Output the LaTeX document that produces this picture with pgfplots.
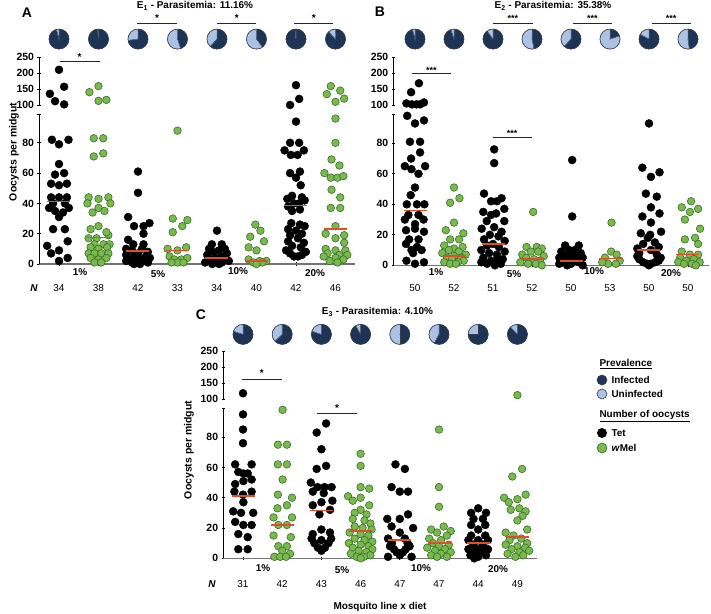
\documentclass[border=0pt]{standalone}
\usepackage{fontspec}
\setmainfont{Liberation Sans}
\usepackage{pgfplots}
\pgfplotsset{compat=1.18}
\usepackage{pgfplotstable}
\definecolor{pieD}{RGB}{30,52,85}
\definecolor{pieL}{RGB}{172,194,228}
\definecolor{pieE}{RGB}{55,60,75}
\definecolor{gfill}{RGB}{120,186,78}
\definecolor{gedge}{RGB}{60,110,40}
\definecolor{medred}{RGB}{222,78,40}
\tikzset{sigbar/.style={line width=1bp, black!85}}

\pgfplotsset{
 panel/.style={scale only axis, xmin=-0.5, xmax=7.5, clip=false,
   axis line style={-, line width=0.9bp}, tick style={line width=0.9bp, black},
   tick align=outside, major tick length=3.5bp,
   tick label style={font=\fontsize{10.5}{12}\selectfont\bfseries},
   /pgf/number format/assume math mode=true},
 low/.style={panel, height=150bp, ymin=0, ymax=99, axis x line=bottom, axis y line=left,
   axis line style={-}, ytick={0,20,40,60,80}, extra y ticks={99}, extra y tick labels={},
   xtick={0,...,7}, xticklabels={}, x axis line style={black!55, line width=1.2bp}},
 up/.style={panel, height=48bp, ymin=100, ymax=250, axis x line=none, axis y line=left,
   axis line style={-}, ytick={100,150,200,250}},
 tet/.style={only marks, mark=*, mark size=4bp, black},
 wm/.style={only marks, mark=*, mark size=3.8bp, mark options={fill=gfill, draw=gedge, line width=0.6bp}},
 lo/.style={restrict y to domain=0:99.4},
 hi/.style={restrict y to domain=99.5:400},
 med/.style={only marks, mark=-, mark size=11.5bp, mark options={draw=medred, line width=1.6bp}},
 pie/.style={only marks, scatter, mark=*, mark size=0.1bp, color=pieD,
   point meta=\thisrow{u},
   visualization depends on={value \thisrow{u}\as\pu},
   scatter/@pre marker code/.code={%
     \pgfmathsetmacro\pa{90+360*\pu}%
     \fill[pieD] (0bp,0bp) circle[radius=10bp];
     \fill[pieL] (0bp,0bp) -- (0bp,10bp) arc[start angle=90, end angle=\pa, radius=10bp] -- cycle;
     \draw[pieE, line width=0.45bp] (0bp,10bp) -- (0bp,0bp) -- ([shift={(\pa:10bp)}]0bp,0bp);
     \draw[pieE, line width=0.6bp] (0bp,0bp) circle[radius=10bp];
   },
   scatter/@post marker code/.code={}},
}

% ---------------- Panel A data
\pgfplotstableread[row sep=\\]{c o y\\
0 0 210\\ 0 0.13 157\\ 0 -0.23 135\\ 0 -0.1 112\\ 0 0.13 102\\
0 -0.18 82\\ 0 0 79\\ 0 0.24 82\\ 0 0 66\\ 0 -0.1 59\\ 0 0.13 60\\
0 -0.2 53\\ 0 0 52\\ 0 0.2 53\\ 0 -0.2 44\\ 0 0 44\\ 0 0.2 44\\
0 -0.15 40\\ 0 0.15 40\\ 0 -0.25 37\\ 0 0.25 37\\ 0 -0.1 35\\ 0 0.1 34\\ 0 0 31\\
0 -0.15 23\\ 0 0.15 23\\ 0 -0.3 12\\ 0 0.22 15\\ 0 0 9\\ 0 -0.2 7\\ 0 0.22 4\\ 0 0 2\\
2 0 61\\ 2 0 47\\ 2 -0.25 31\\ 2 -0.1 25\\ 2 0.14 25\\ 2 0.29 27\\ 2 0.14 20\\ 2 -0.25 16\\ 2 -0.12 13\\ 2 0.14 13\\
2 -0.3 10\\ 2 0.1 10\\ 2 -0.15 9\\ 2 0.25 8\\ 2 0 7\\ 2 -0.3 6\\ 2 0.2 5\\ 2 -0.1 5\\ 2 0.3 4\\ 2 -0.2 3\\
2 0.1 3\\ 2 0 2\\ 2 -0.3 2\\ 2 0.25 1\\ 2 -0.15 1\\ 2 0.05 0\\ 2 -0.1 0\\ 2 0.2 2\\
4 0 22\\ 4 -0.13 13\\ 4 0.12 13\\ 4 -0.2 10\\ 4 0.2 10\\ 4 0.05 9\\ 4 -0.1 8\\ 4 0.25 7\\ 4 -0.25 6\\ 4 0.1 5\\
4 -0.05 4\\ 4 0.2 3\\ 4 -0.2 3\\ 4 0 2\\ 4 0.3 2\\ 4 -0.3 1\\ 4 0.12 1\\ 4 -0.12 0\\ 4 0.05 0\\
6 0 162\\ 6 0.08 119\\ 6 -0.15 100\\
6 0 94\\ 6 -0.15 80\\ 6 0.08 80\\ 6 -0.29 75\\ 6 0.2 75\\ 6 -0.13 72\\ 6 0.04 72\\
6 -0.15 60\\ 6 0.1 61\\ 6 0 57\\ 6 0.12 52\\
6 -0.1 45\\ 6 0.15 44\\ 6 -0.22 43\\ 6 0.22 42\\ 6 -0.05 40\\ 6 0.08 40\\ 6 -0.2 38\\ 6 0.1 36\\ 6 -0.1 35\\
6 -0.12 27\\ 6 0.1 26\\ 6 0.22 25\\ 6 -0.2 23\\ 6 0 22\\ 6 0.15 20\\ 6 -0.15 19\\ 6 0.05 17\\
6 -0.2 15\\ 6 0.2 14\\ 6 -0.1 12\\ 6 0.12 11\\ 6 -0.25 9\\ 6 0.25 8\\ 6 -0.15 7\\ 6 0.15 6\\ 6 -0.05 5\\ 6 0.05 5\\
}\ATet
\pgfplotstableread[row sep=\\]{c o y\\
1 -0.23 140\\ 1 0 159\\ 1 0 113\\ 1 0.2 116\\
1 -0.12 83\\ 1 0.12 83\\ 1 -0.12 71\\ 1 0.12 73\\
1 -0.25 44\\ 1 0 43\\ 1 0.25 44\\ 1 -0.28 40\\ 1 0.3 40\\ 1 0 37\\ 1 -0.15 34\\ 1 0.15 35\\
1 0 25\\ 1 -0.2 23\\ 1 0.25 19\\ 1 -0.25 17\\ 1 -0.05 17\\ 1 0.2 21\\
1 -0.1 13\\ 1 0.13 13\\ 1 0.28 13\\ 1 -0.2 11\\ 1 0 10\\ 1 0.22 11\\
1 -0.25 7\\ 1 -0.1 7\\ 1 0.07 7\\ 1 0.25 7\\ 1 -0.2 4\\ 1 0 3\\ 1 0.2 4\\ 1 -0.1 1\\ 1 0.07 1\\
3 0 88\\ 3 -0.12 30\\ 3 0.25 29\\ 3 0.12 25\\ 3 -0.12 21\\ 3 -0.25 10\\ 3 0 9\\ 3 0.22 11\\ 3 -0.2 5\\
3 -0.08 3\\ 3 0.1 3\\ 3 0.25 4\\ 3 0 1\\ 3 -0.15 1\\ 3 0.15 1\\
5 -0.03 26\\ 5 0.1 22\\ 5 -0.16 18\\ 5 0.19 15\\ 5 -0.2 11\\ 5 0 9\\ 5 -0.2 3\\ 5 0.25 2\\ 5 0.08 2\\ 5 -0.08 1\\ 5 0.15 1\\ 5 0 0\\
7 -0.12 159\\ 7 0.12 145\\ 7 -0.22 134\\ 7 0.22 120\\ 7 0 110\\
7 0 96\\ 7 0 80\\ 7 -0.1 69\\ 7 0.1 65\\ 7 -0.28 60\\ 7 -0.12 57\\ 7 0.05 57\\ 7 0.2 58\\
7 -0.1 49\\ 7 0.12 44\\ 7 -0.12 37\\ 7 0.12 37\\ 7 0 25\\ 7 -0.25 20\\ 7 0 17\\ 7 0.22 19\\ 7 0.22 14\\
7 -0.25 10\\ 7 0 9\\ 7 0.25 9\\ 7 -0.2 7\\ 7 0.1 6\\ 7 0.3 6\\ 7 -0.3 5\\ 7 0 4\\ 7 0.2 3\\ 7 -0.15 2\\ 7 0.05 1\\
}\AWm
% ---------------- Panel B data
\pgfplotstableread[row sep=\\]{c o y\\
0 0.1 168\\ 0 -0.1 140\\ 0 -0.22 105\\ 0 -0.08 102\\ 0 0.04 102\\ 0 0.13 102\\ 0 0.23 108\\
0 -0.2 98\\ 0 0.23 95\\ 0 0 93\\ 0 -0.13 81\\ 0 0.13 81\\ 0 -0.1 70\\ 0 0.13 74\\ 0 -0.26 65\\ 0 0.26 65\\
0 -0.09 63\\ 0 0.09 60\\ 0 0 51\\ 0 -0.11 46\\ 0 -0.21 40\\ 0 0.05 40\\ 0 0.24 40\\ 0 -0.17 33\\ 0 0.09 33\\
0 -0.26 30\\ 0 0.22 30\\ 0 0 27\\ 0 -0.23 23\\ 0 0 24\\ 0 0.23 22\\ 0 -0.15 17\\ 0 0.09 17\\ 0 -0.23 14\\
0 0.05 12\\ 0 -0.09 10\\ 0 0.17 10\\ 0 -0.05 8\\ 0 -0.22 3\\ 0 0.23 2\\ 0 0 1\\
2 0.03 76\\ 2 0.03 67\\ 2 -0.23 47\\ 2 0.22 44\\ 2 -0.05 42\\ 2 0.1 42\\ 2 0.29 37\\ 2 -0.25 35\\ 2 0.08 34\\
2 -0.05 33\\ 2 -0.16 29\\ 2 0.29 29\\ 2 -0.29 24\\ 2 0.03 25\\ 2 0.22 22\\ 2 -0.08 20\\ 2 0.14 19\\ 2 -0.23 17\\
2 0.3 16\\ 2 0 14\\ 2 -0.15 13\\ 2 0.15 12\\ 2 -0.3 10\\ 2 0.3 9\\ 2 -0.1 8\\ 2 0.1 7\\ 2 -0.25 5\\ 2 0.25 4\\
2 -0.05 3\\ 2 0.1 3\\ 2 -0.3 2\\ 2 0.2 1\\ 2 -0.15 1\\ 2 0.05 0\\
4 0.03 69\\ 4 0.03 32\\ 4 -0.15 13\\ 4 0.2 13\\ 4 -0.05 10\\ 4 0.1 10\\ 4 -0.25 9\\ 4 0.25 8\\ 4 0 7\\
4 -0.15 6\\ 4 0.15 6\\ 4 -0.3 5\\ 4 0.3 5\\ 4 -0.05 4\\ 4 0.1 3\\ 4 -0.2 2\\ 4 0.2 2\\ 4 0 1\\ 4 -0.3 1\\ 4 0.3 0\\ 4 -0.1 0\\
6 0 93\\ 6 -0.17 64\\ 6 0.05 58\\ 6 0.27 61\\ 6 -0.08 47\\ 6 0.2 45\\ 6 0.05 38\\ 6 -0.17 32\\ 6 0.27 34\\
6 0.05 28\\ 6 -0.21 21\\ 6 0.03 20\\ 6 0.31 22\\ 6 -0.03 18\\ 6 0.15 15\\ 6 -0.15 14\\ 6 0.25 12\\ 6 -0.3 11\\
6 0.05 10\\ 6 -0.25 8\\ 6 0.2 7\\ 6 -0.3 6\\ 6 0.3 5\\ 6 -0.25 4\\ 6 0.25 3\\ 6 -0.15 2\\ 6 0.15 2\\ 6 -0.05 1\\ 6 0.05 1\\ 6 0 0\\
}\BTet
\pgfplotstableread[row sep=\\]{c o y\\
1 0 51\\ 1 -0.1 41\\ 1 0.14 44\\ 1 0 28\\ 1 -0.21 23\\ 1 0.24 21\\ 1 -0.1 17\\ 1 0.13 17\\ 1 -0.25 13\\
1 0.22 12\\ 1 0 11\\ 1 -0.13 10\\ 1 0.12 9\\ 1 -0.3 8\\ 1 0.3 7\\ 1 0 6\\ 1 -0.18 5\\ 1 0.18 5\\ 1 -0.05 4\\
1 0.25 3\\ 1 -0.25 2\\ 1 0.1 2\\ 1 -0.1 1\\ 1 0.05 1\\
3 0.03 35\\ 3 -0.14 12\\ 3 0.12 12\\ 3 0.25 11\\ 3 -0.03 9\\ 3 0.16 9\\ 3 -0.25 7\\ 3 0.3 6\\ 3 -0.15 5\\
3 0.05 4\\ 3 0.2 3\\ 3 -0.3 2\\ 3 -0.1 1\\ 3 0.1 1\\ 3 0.25 0\\
5 0.04 28\\ 5 0.03 9\\ 5 0.17 7\\ 5 -0.13 5\\ 5 0.25 3\\ 5 -0.05 1\\ 5 0.15 1\\ 5 -0.2 2\\
7 -0.16 38\\ 7 0.08 42\\ 7 0.26 37\\ 7 0.05 35\\ 7 -0.08 30\\ 7 0.31 24\\ 7 -0.08 17\\ 7 0.18 18\\ 7 0.26 14\\
7 -0.16 9\\ 7 0.05 7\\ 7 0.26 7\\ 7 -0.2 5\\ 7 0.15 4\\ 7 -0.05 3\\ 7 0.3 2\\ 7 -0.25 2\\ 7 0.1 1\\ 7 -0.1 1\\ 7 0.2 0\\
}\BWm
% ---------------- Panel C data
\pgfplotstableread[row sep=\\]{c o y\\
0 0 118\\ 0 0 95\\ 0 0 85\\ 0 0 76\\ 0 -0.2 62\\ 0 0.22 62\\ 0 -0.12 57\\ 0 0.01 56\\ 0 0.12 56\\
0 -0.2 49\\ 0 0.01 51\\ 0 0.22 52\\ 0 -0.22 44\\ 0 0 42\\ 0 0.22 44\\ 0 0.01 37\\ 0 -0.25 31\\ 0 -0.05 30\\
0 0.26 30\\ 0 -0.2 24\\ 0 0.01 22\\ 0 0.22 22\\ 0 -0.12 16\\ 0 0.12 14\\ 0 -0.12 6\\ 0 0.12 6\\
2 0.12 89\\ 2 -0.12 83\\ 2 0 72\\ 2 0.12 61\\ 2 -0.12 59\\ 2 -0.27 50\\ 2 -0.1 47\\ 2 0.08 47\\ 2 0.26 47\\
2 -0.22 44\\ 2 0.06 43\\ 2 0.28 38\\ 2 0 37\\ 2 -0.22 35\\ 2 0.22 32\\ 2 -0.05 29\\ 2 0 19\\ 2 0.22 17\\
2 -0.22 16\\ 2 -0.25 13\\ 2 0 12\\ 2 0.25 13\\ 2 -0.18 10\\ 2 0.18 10\\ 2 -0.09 7\\ 2 0.09 7\\ 2 0 5\\
4 -0.11 62\\ 4 0.13 59\\ 4 -0.21 47\\ 4 0 44\\ 4 0.21 44\\ 4 0.21 29\\ 4 -0.32 26\\ 4 0 26\\ 4 -0.21 21\\
4 0.34 20\\ 4 0 17\\ 4 -0.3 13\\ 4 0.13 13\\ 4 -0.2 10\\ 4 0.2 10\\ 4 -0.25 8\\ 4 0.25 8\\ 4 -0.15 6\\
4 0.15 6\\ 4 -0.08 4\\ 4 0.08 4\\ 4 0 2\\ 4 -0.3 1\\ 4 0.3 1\\
6 0 33\\ 6 -0.18 30\\ 6 0.2 30\\ 6 -0.12 26\\ 6 0.12 26\\ 6 -0.18 22\\ 6 0.18 22\\ 6 0 19\\ 6 -0.18 15\\
6 0.18 15\\ 6 -0.25 12\\ 6 0 12\\ 6 0.25 12\\ 6 -0.12 9\\ 6 0.12 9\\ 6 -0.25 6\\ 6 0 6\\ 6 0.25 6\\
6 -0.12 4\\ 6 0.12 4\\ 6 -0.2 2\\ 6 0.2 2\\ 6 0 1\\ 6 -0.1 0\\
}\CTet
\pgfplotstableread[row sep=\\]{c o y\\
1 0.01 98\\ 1 -0.11 75\\ 1 0.12 75\\ 1 -0.11 62\\ 1 0.12 62\\ 1 0.01 52\\ 1 -0.11 42\\ 1 0.25 40\\
1 0.12 35\\ 1 -0.12 33\\ 1 -0.22 27\\ 1 0.25 27\\ 1 -0.1 22\\ 1 0.12 22\\ 1 -0.22 15\\ 1 0.22 14\\
1 -0.1 8\\ 1 0.12 8\\ 1 0 5\\ 1 0.2 3\\ 1 -0.2 1\\ 1 -0.05 1\\ 1 0.1 1\\
3 0 69\\ 3 0 61\\ 3 0 47\\ 3 0.22 46\\ 3 -0.32 41\\ 3 -0.2 38\\ 3 0 40\\ 3 0.22 35\\ 3 0 32\\ 3 -0.15 30\\
3 0.15 29\\ 3 -0.2 26\\ 3 0.1 25\\ 3 0.25 23\\ 3 -0.15 21\\ 3 0.05 20\\ 3 0.28 19\\ 3 -0.28 17\\ 3 0 16\\
3 0.2 15\\ 3 -0.15 13\\ 3 0.1 12\\ 3 0.3 11\\ 3 -0.3 10\\ 3 0 9\\ 3 0.2 8\\ 3 -0.2 7\\ 3 0.3 6\\ 3 -0.05 5\\
3 0.15 4\\ 3 -0.25 3\\ 3 0.25 2\\ 3 -0.1 1\\ 3 0.08 1\\ 3 0 0\\
5 0 85\\ 5 0 47\\ 5 0 34\\ 5 0.12 21\\ 5 -0.2 19\\ 5 0.3 18\\ 5 -0.05 17\\ 5 0.2 15\\ 5 -0.25 13\\ 5 0.05 12\\
5 -0.15 10\\ 5 0.25 9\\ 5 0 8\\ 5 -0.3 7\\ 5 0.15 6\\ 5 -0.1 5\\ 5 0.3 4\\ 5 0.05 3\\ 5 -0.2 2\\ 5 0.2 1\\ 5 -0.05 1\\
7 0 112\\ 7 0.12 59\\ 7 -0.13 54\\ 7 -0.34 40\\ 7 0.21 42\\ 7 0 39\\ 7 -0.22 37\\ 7 0.05 33\\ 7 -0.17 32\\
7 0.21 31\\ 7 0.13 28\\ 7 0 25\\ 7 0.25 19\\ 7 -0.3 17\\ 7 -0.1 15\\ 7 0.1 13\\ 7 -0.2 12\\ 7 0.25 10\\
7 -0.3 9\\ 7 0 8\\ 7 0.2 7\\ 7 -0.15 6\\ 7 0.3 5\\ 7 0.05 4\\ 7 -0.25 3\\ 7 0.15 2\\ 7 -0.05 1\\
}\CWm

\begin{document}
\begin{tikzpicture}
\path[use as bounding box] (0,0) rectangle (711bp,-614bp);

% ================= Panel A
\begin{axis}[low, at={(39.25bp,-264bp)}, anchor=south west, width=316bp]
\addplot[tet, lo] table[x expr=\thisrow{c}+\thisrow{o}, y=y] {\ATet};
\addplot[wm, lo] table[x expr=\thisrow{c}+\thisrow{o}, y=y] {\AWm};
\addplot[med] table[row sep=\\] {x y\\ 0 41.2\\ 1 17.5\\ 2 8.5\\ 3 9\\ 4 4\\ 5 2\\ 6 38.5\\ 7 23\\};
\end{axis}
\begin{axis}[up, at={(39.25bp,-105bp)}, anchor=south west, width=316bp]
\addplot[tet, hi] table[x expr=\thisrow{c}+\thisrow{o}, y=y] {\ATet};
\addplot[wm, hi] table[x expr=\thisrow{c}+\thisrow{o}, y=y] {\AWm};
\addplot[pie] table[row sep=\\, x=c, y=y] {c y u\\ 0 306 0.04\\ 1 306 0.01\\ 2 306 0.27\\ 3 306 0.55\\ 4 306 0.38\\ 5 306 0.6\\ 6 306 0.01\\ 7 306 0.12\\};
\draw[sigbar] (axis cs:0.02,237.5) -- (axis cs:1.03,237.5);
\node[font=\fontsize{10}{12}\selectfont\bfseries] at (axis cs:0.52,250) {*};
\draw[sigbar] (axis cs:1.98,356) -- (axis cs:2.98,356);
\draw[sigbar] (axis cs:4.0,356) -- (axis cs:4.99,356);
\draw[sigbar] (axis cs:5.95,356) -- (axis cs:6.94,356);
\node[font=\fontsize{10}{12}\selectfont\bfseries] at (axis cs:2.48,372) {*};
\node[font=\fontsize{10}{12}\selectfont\bfseries] at (axis cs:4.5,372) {*};
\node[font=\fontsize{10}{12}\selectfont\bfseries] at (axis cs:6.45,372) {*};
\end{axis}

% ================= Panel B
\begin{axis}[low, at={(393.55bp,-265.3bp)}, anchor=south west, width=315.9bp, height=151bp, xmin=-0.55, xmax=7.55]
\addplot[tet, lo] table[x expr=\thisrow{c}+\thisrow{o}, y=y] {\BTet};
\addplot[wm, lo] table[x expr=\thisrow{c}+\thisrow{o}, y=y] {\BWm};
\addplot[med] table[row sep=\\] {x y\\ 0 36\\ 1 6\\ 2 14\\ 3 4\\ 4 3\\ 5 4.5\\ 6 10\\ 7 7\\};
\draw[sigbar] (axis cs:1.99,83.7) -- (axis cs:2.99,83.7);
\node[font=\fontsize{9}{11}\selectfont\bfseries] at (axis cs:2.49,86.5) {***};
\end{axis}
\begin{axis}[up, at={(393.55bp,-105bp)}, anchor=south west, width=315.9bp, xmin=-0.55, xmax=7.55]
\addplot[tet, hi] table[x expr=\thisrow{c}+\thisrow{o}, y=y] {\BTet};
\addplot[wm, hi] table[x expr=\thisrow{c}+\thisrow{o}, y=y] {\BWm};
\addplot[pie] table[row sep=\\, x=c, y=y] {c y u\\ 0 306 0.04\\ 1 306 0.05\\ 2 306 0.1\\ 3 306 0.53\\ 4 306 0.38\\ 5 306 0.8\\ 6 306 0.17\\ 7 306 0.52\\};
\draw[sigbar] (axis cs:-0.08,200) -- (axis cs:0.92,200);
\node[font=\fontsize{9}{11}\selectfont\bfseries] at (axis cs:0.42,209) {***};
\draw[sigbar] (axis cs:2.0,356) -- (axis cs:3.02,356);
\draw[sigbar] (axis cs:4.05,356) -- (axis cs:5.06,356);
\draw[sigbar] (axis cs:6.07,356) -- (axis cs:7.08,356);
\node[font=\fontsize{9}{11}\selectfont\bfseries] at (axis cs:2.51,372) {***};
\node[font=\fontsize{9}{11}\selectfont\bfseries] at (axis cs:4.55,372) {***};
\node[font=\fontsize{9}{11}\selectfont\bfseries] at (axis cs:6.57,372) {***};
\end{axis}

% ================= Panel C
\begin{axis}[low, at={(223.4bp,-558.3bp)}, anchor=south west, width=313.6bp]
\addplot[tet, lo] table[x expr=\thisrow{c}+\thisrow{o}, y=y] {\CTet};
\addplot[wm, lo] table[x expr=\thisrow{c}+\thisrow{o}, y=y] {\CWm};
\addplot[med] table[row sep=\\] {x y\\ 0 41\\ 1 22\\ 2 31.5\\ 3 18\\ 4 12\\ 5 10\\ 6 10\\ 7 14\\};
\draw[sigbar] (axis cs:1.89,95.4) -- (axis cs:2.91,95.4);
\node[font=\fontsize{10}{12}\selectfont\bfseries] at (axis cs:2.4,99) {*};
\end{axis}
\begin{axis}[up, at={(223.4bp,-399bp)}, anchor=south west, width=313.6bp]
\addplot[tet, hi] table[x expr=\thisrow{c}+\thisrow{o}, y=y] {\CTet};
\addplot[wm, hi] table[x expr=\thisrow{c}+\thisrow{o}, y=y] {\CWm};
\addplot[pie] table[row sep=\\, x=c, y=y] {c y u\\ 0 302 0.2\\ 1 302 0.37\\ 2 302 0.2\\ 3 302 0.08\\ 4 302 0.5\\ 5 302 0.42\\ 6 302 0.25\\ 7 302 0.12\\};
\draw[sigbar] (axis cs:-0.03,162.5) -- (axis cs:1.0,162.5);
\node[font=\fontsize{10}{12}\selectfont\bfseries] at (axis cs:0.48,180) {*};
\end{axis}

% ================= Text and legend
\begin{scope}[x=1bp, y=-1bp, font=\fontsize{10}{12}\selectfont\bfseries]
\node[font=\fontsize{14}{16}\selectfont\bfseries] at (27,13) {A};
\node[font=\fontsize{14}{16}\selectfont\bfseries] at (380,12) {B};
\node[font=\fontsize{14}{16}\selectfont\bfseries] at (201,315) {C};
\node at (195,6) {E\textsubscript{1} - Parasitemia: 11.16\%};
\node at (553,6) {E\textsubscript{2} - Parasitemia: 35.38\%};
\node at (377.5,312) {E\textsubscript{3} - Parasitemia: 4.10\%};
\node[rotate=90, font=\fontsize{10.5}{12}\selectfont\bfseries] at (14,152) {Oocysts per midgut};
\node[rotate=90, font=\fontsize{10.5}{12}\selectfont\bfseries] at (189,450) {Oocysts per midgut};
\node at (380,607) {Mosquito line x diet};
% group labels
\node at (80,272) {1\%}; \node at (158,274) {5\%}; \node at (238,271) {10\%}; \node at (315,273) {20\%};
\node at (436,272) {1\%}; \node at (514,274) {5\%}; \node at (594,271) {10\%}; \node at (671,273) {20\%};
\node at (263,568) {1\%}; \node at (342,570) {5\%}; \node at (421,568) {10\%}; \node at (498,569) {20\%};
% N rows
\node[font=\fontsize{10}{12}\selectfont\bfseries\itshape] at (34,288) {N};
\node[font=\fontsize{10}{12}\selectfont\bfseries\itshape] at (212,584) {N};
\begin{scope}[font=\fontsize{10}{12}\selectfont]
\foreach \n [count=\i from 0] in {34,38,42,33,34,40,42,46} {\node at (59+39.5*\i,288) {\n};}
\foreach \n [count=\i from 0] in {50,52,51,52,50,53,50,50} {\node at (415+39*\i,288) {\n};}
\foreach \n [count=\i from 0] in {31,42,43,46,47,47,44,49} {\node at (243+39.2*\i,584) {\n};}
\end{scope}
% legend
\node[anchor=west] at (596,364) {\underline{Prevalence}};
\fill[pieD, draw=pieE, line width=0.6bp] (602,380) circle[radius=5];
\node[anchor=west] at (608,380) {Infected};
\fill[pieL, draw=pieE, line width=0.6bp] (602,394) circle[radius=5];
\node[anchor=west] at (608,394) {Uninfected};
\node[anchor=west] at (596,416) {\underline{Number of oocysts}};
\fill[black] (602,433) circle[radius=5];
\node[anchor=west] at (608,433) {Tet};
\fill[gfill, draw=gedge, line width=0.6bp] (602,448) circle[radius=5];
\node[anchor=west] at (608,448) {\textit{w}Mel};
\end{scope}
\end{tikzpicture}
\end{document}
